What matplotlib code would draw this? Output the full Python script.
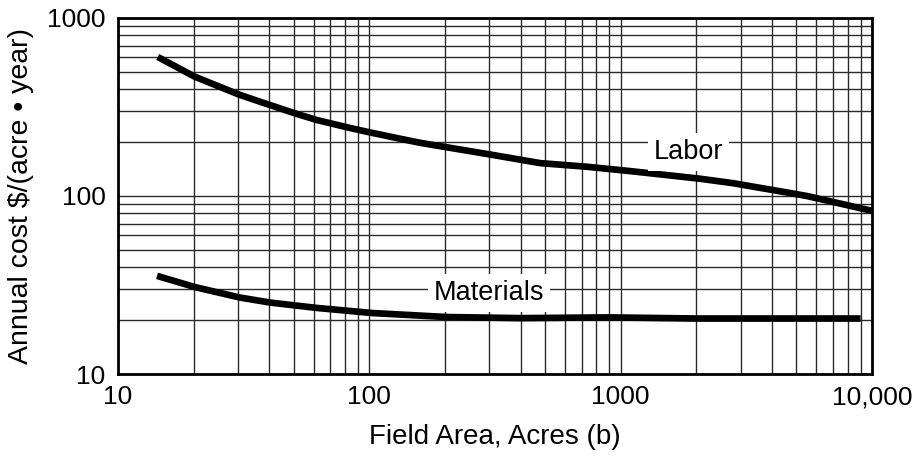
import matplotlib
matplotlib.use("Agg")
import matplotlib.pyplot as plt
from matplotlib.ticker import FixedLocator, FixedFormatter, LogLocator, NullFormatter

plt.rcParams['font.family'] = ['Liberation Sans', 'DejaVu Sans']

labor_x = [14.4, 20.2, 30.5, 40.3, 51.5, 61.9, 83.8, 103, 132, 159, 310, 478,
           733, 1090, 2070, 2800, 4700, 5500, 10000]
labor_y = [604, 468, 370, 324, 289, 267, 241, 226, 210, 199, 170, 153,
           146, 138, 125, 118, 104, 100, 82.5]

mat_x = [14.3, 20.2, 30.5, 40.3, 61.9, 103, 203, 400, 900, 2000, 9000]
mat_y = [35.6, 30.8, 26.9, 25.2, 23.5, 22.0, 20.9, 20.6, 20.8, 20.5, 20.5]

x_ticks = [10, 100, 1000, 10000]
x_labels = ["10", "100", "1000", "10,000"]
y_ticks = [10, 100, 1000]
y_labels = ["10", "100", "1000"]

fig = plt.figure(figsize=(9.18, 4.61), dpi=100)
ax = fig.add_axes([0.1285, 0.1887, 0.8215, 0.7723])
ax.set_xscale('log')
ax.set_yscale('log')
ax.set_xlim(10, 10000)
ax.set_ylim(10, 1000)

ax.plot(labor_x, labor_y, color='black', lw=4.8, solid_capstyle='butt',
        solid_joinstyle='round', zorder=3)
ax.plot(mat_x, mat_y, color='black', lw=4.8, solid_capstyle='butt',
        solid_joinstyle='round', zorder=3)

ax.xaxis.set_major_locator(FixedLocator(x_ticks))
ax.xaxis.set_major_formatter(FixedFormatter(x_labels))
ax.yaxis.set_major_locator(FixedLocator(y_ticks))
ax.yaxis.set_major_formatter(FixedFormatter(y_labels))
ax.xaxis.set_minor_locator(LogLocator(base=10, subs=range(2, 10)))
ax.yaxis.set_minor_locator(LogLocator(base=10, subs=range(2, 10)))
ax.xaxis.set_minor_formatter(NullFormatter())
ax.yaxis.set_minor_formatter(NullFormatter())
ax.grid(True, which='both', color='#2a2a2a', lw=1.0, zorder=1)
ax.tick_params(which='both', length=0, labelsize=19)
ax.tick_params(axis='x', pad=8)
ax.tick_params(axis='y', pad=9)
for s in ax.spines.values():
    s.set_linewidth(2.0)

ax.text(1866, 177, "Labor", fontsize=19.5, ha='center', va='center', zorder=4,
        bbox=dict(facecolor='white', edgecolor='none', pad=4))
ax.text(300, 28.5, "Materials", fontsize=19.5, ha='center', va='center', zorder=4,
        bbox=dict(facecolor='white', edgecolor='none', pad=4))

ax.set_xlabel("Field Area, Acres (b)", fontsize=20, va='center')
ax.set_ylabel("Annual cost $/(acre \u2022 year)", fontsize=20.5, va='center')
ax.xaxis.set_label_coords(0.5, -0.178)
ax.yaxis.set_label_coords(-0.128, 0.5)

fig.savefig("out.png", dpi=100)
